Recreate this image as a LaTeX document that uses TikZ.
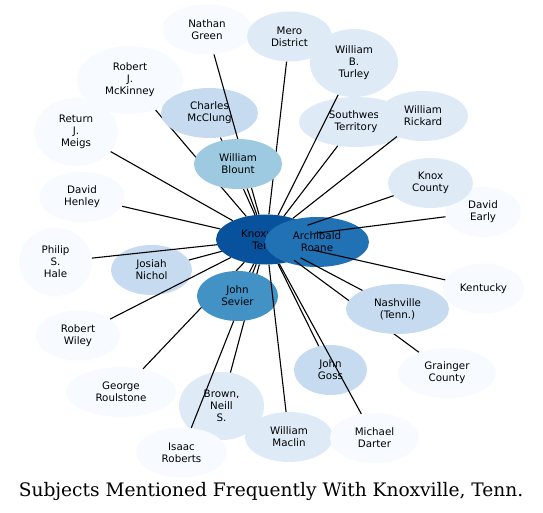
\documentclass[tikz,border=0pt]{standalone}
\usepackage{fontspec}
\setmainfont{DejaVu Sans}
\newfontfamily\titlefont{DejaVu Serif}
\usepackage{tikz}
\usetikzlibrary{shapes.geometric}
\definecolor{myknox}{RGB}{8,81,156}
\definecolor{myroane}{RGB}{33,113,181}
\definecolor{mysevier}{RGB}{66,146,198}
\definecolor{myblount}{RGB}{158,202,225}
\definecolor{mymid}{RGB}{198,219,239}
\definecolor{mylight}{RGB}{222,235,247}
\definecolor{mypale}{RGB}{247,251,255}
\tikzset{
  subj/.style={ellipse, draw=none, inner sep=0pt, align=center,
    minimum height=50pt, text=black,
    font=\fontsize{10.3}{12}\selectfont},
  subjtall/.style={subj, minimum height=68pt},
  subjpale/.style={subj, fill=mypale},
  subjlight/.style={subj, fill=mylight},
  subjmid/.style={subj, fill=mymid},
  link/.style={line width=1.1pt, color=black}
}

\begin{document}
\begin{tikzpicture}[x=1pt, y=-1pt]
  \useasboundingbox (0,0) rectangle (543,513);
  \node[subj, fill=myknox, minimum width=100pt] (knox) at (266,239.5) {Knoxville,\\Tenn.};
  \node[subj, fill=myroane, minimum width=104pt] (roane) at (317,242) {Archibald\\Roane};

  \node[subjpale, subjtall, minimum width=106pt] (mckinney) at (130,80) {Robert\\J.\\McKinney};
  \draw[link] (knox) -- (mckinney);
  \node[subjmid, minimum width=97pt] (mcclung) at (209.5,113) {Charles\\McClung};
  \draw[link] (knox) -- (mcclung);
  \node[subjpale, minimum width=90pt] (green) at (207,29.5) {Nathan\\Green};
  \draw[link] (knox) -- (green);
  \node[subjlight, minimum width=85pt] (mero) at (289.5,36.5) {Mero\\District};
  \draw[link] (knox) -- (mero);
  \node[subjlight, minimum width=114pt] (southwest) at (356,122) {Southwest\\Territory};
  \draw[link] (knox) -- (southwest);
  \node[subjlight, subjtall, minimum width=88pt] (turley) at (354,63) {William\\B.\\Turley};
  \draw[link] (knox) -- (turley);
  \node[subjlight, minimum width=90pt] (rickard) at (423,116) {William\\Rickard};
  \draw[link] (knox) -- (rickard);
  \node[subj, fill=myblount, minimum width=88pt] (blount) at (238,164) {William\\Blount};
  \draw[link] (knox) -- (blount);

  \node[subjpale, subjtall, minimum width=84pt] (meigs) at (76,132) {Return\\J.\\Meigs};
  \draw[link] (knox) -- (meigs);
  \node[subjpale, minimum width=86pt] (henley) at (82,197) {David\\Henley};
  \draw[link] (knox) -- (henley);
  \node[subjmid, minimum width=81pt] (nichol) at (151.5,270) {Josiah\\Nichol};
  \draw[link] (knox) -- (nichol);
  \node[subjpale, subjtall, minimum width=73pt] (hale) at (55.5,262) {Philip\\S.\\Hale};
  \draw[link] (knox) -- (hale);
  \node[subjpale, minimum width=84pt] (wiley) at (78,335.5) {Robert\\Wiley};
  \draw[link] (knox) -- (wiley);
  \node[subjpale, minimum width=110pt] (roulstone) at (121,392) {George\\Roulstone};
  \draw[link] (knox) -- (roulstone);
  \node[subjlight, subjtall, minimum width=85pt] (brown) at (221.5,406) {Brown,\\Neill\\S.};
  \draw[link] (knox) -- (brown);
  \node[subjpale, minimum width=91pt] (roberts) at (181.5,452.5) {Isaac\\Roberts};
  \draw[link] (knox) -- (roberts);
  \node[subj, fill=mysevier, minimum width=81pt] (sevier) at (237.5,296) {John\\Sevier};
  \draw[link] (knox) -- (sevier);
  \node[subjlight, minimum width=88pt] (maclin) at (289,437) {William\\Maclin};
  \draw[link] (knox) -- (maclin);
  \node[subjmid, minimum width=73pt] (goss) at (330.5,370) {John\\Goss};
  \draw[link] (knox) -- (goss);
  \node[subjpale, minimum width=89pt] (darter) at (374.5,438) {Michael\\Darter};
  \draw[link] (knox) -- (darter);
  \node[subjpale, minimum width=98pt] (grainger) at (447,373) {Grainger\\County};
  \draw[link] (knox) -- (grainger);
  \node[subjmid, minimum width=103pt] (nashville) at (397.5,309) {Nashville\\(Tenn.)};
  \draw[link] (knox) -- (nashville);

  \node[subjpale, minimum width=76pt] (early) at (483,212) {David\\Early};
  \draw[link] (knox) -- (early);
  \node[subjlight, minimum width=85pt] (knoxco) at (430.5,183) {Knox\\County};
  \draw[link] (knox) -- (knoxco);
  \node[subjpale, minimum width=81pt] (kentucky) at (483.5,288.5) {Kentucky};
  \draw[link] (knox) -- (kentucky);

  \node[font=\titlefont\fontsize{18.6}{22}\selectfont, anchor=base] (title) at (271,496) {Subjects Mentioned Frequently With Knoxville, Tenn.};
\end{tikzpicture}
\end{document}
